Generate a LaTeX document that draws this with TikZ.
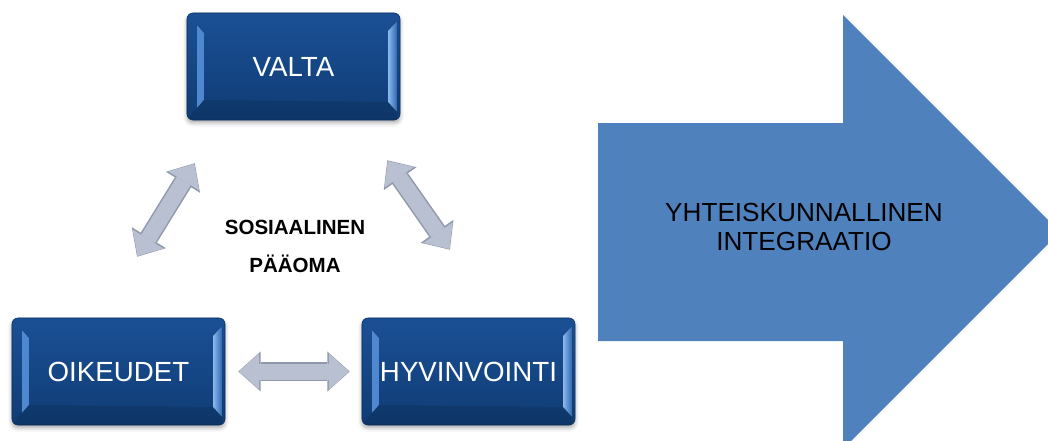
\documentclass[tikz,border=0pt]{standalone}
\usepackage{fontspec}
\setmainfont{Liberation Sans}
\usetikzlibrary{arrows.meta,calc,shadows.blur}
\definecolor{boxtop}{HTML}{1B5096}
\definecolor{boxbot}{HTML}{0F3C74}
\definecolor{boxedge}{HTML}{0B2F5E}
\definecolor{bevlight}{HTML}{8AB9EE}
\definecolor{bevmid}{HTML}{4F8AD3}
\definecolor{bevdark}{HTML}{2F66AE}
\definecolor{linkfill}{HTML}{B9C0D1}
\definecolor{linkedge}{HTML}{9098AB}
\definecolor{bigblue}{HTML}{4F81BD}

\begin{document}
\begin{tikzpicture}[x=0.025cm,y=-0.025cm,
  box/.style={rounded corners=0.15cm, minimum width=5.325cm, minimum height=2.675cm,
    inner sep=0pt, text=white, font=\fontsize{19.7}{22}\selectfont,
    top color=boxtop, bottom color=boxbot, draw=boxedge, line width=0.4pt,
    blur shadow={shadow xshift=0pt, shadow yshift=-0.07cm, shadow blur radius=0.1cm, shadow opacity=35},
    path picture={
      \fill[sharp corners, left color=bevmid, right color=bevdark]
        ($(path picture bounding box.north west)+(10,12)$) -- ++(7,8) -- ++(0,67) -- ++(-7,8) -- cycle;
      \fill[sharp corners, left color=bevlight, right color=bevdark]
        ($(path picture bounding box.north east)+(-12,18)$) -- ++(9,-10) -- ++(0,91) -- ++(-9,-10) -- cycle;
      \fill[sharp corners, black, opacity=.1]
        ($(path picture bounding box.south west)+(17,-20)$) -- ($(path picture bounding box.south east)+(-12,-18)$)
        -- ($(path picture bounding box.south east)+(-3,-8)$) -- ($(path picture bounding box.south east)+(-3,0)$)
        -- ($(path picture bounding box.south west)+(0,0)$) -- ($(path picture bounding box.south west)+(10,-12)$) -- cycle;
    }},
  linkout/.style={line width=0.475cm, draw=linkedge,
    {Triangle[length=0.56cm,width=1.0cm,line width=0pt]}-{Triangle[length=0.56cm,width=1.0cm,line width=0pt]}},
  linkin/.style={line width=0.4cm, draw=linkfill,
    {Triangle[length=0.5cm,width=0.9cm,line width=0pt]}-{Triangle[length=0.5cm,width=0.9cm,line width=0pt]}}]

\clip (0,0) rectangle (1048,441);

% big arrow
\fill[bigblue] (598,123) -- (843,123) -- (843,15) -- (1060,232) -- (843,449) -- (843,341) -- (598,341) -- cycle;
\node[align=center, font=\fontsize{18.6}{20.6}\selectfont] (integraatio) at (804,227) {YHTEISKUNNALLINEN\\INTEGRAATIO};

\node[box] (valta) at (293.5,66.5) {VALTA};
\node[box] (oikeudet) at (118.5,371.5) {OIKEUDET};
\node[box] (hyvinvointi) at (468.5,371.5) {HYVINVOINTI};
\node[align=center, font=\bfseries\fontsize{14.6}{27}\selectfont] (paaoma) at (295,246) {SOSIAALINEN\\PÄÄOMA};

\path[linkout,shorten <=1.79cm,shorten >=1.26cm] ($(oikeudet.north)+(-19,0)$) -- ($(valta.south west)+(34.5,0)$);
\path[linkin,shorten <=1.81cm,shorten >=1.28cm] ($(oikeudet.north)+(-19,0)$) -- ($(valta.south west)+(34.5,0)$);
\path[linkout,shorten <=1.22cm,shorten >=2.075cm] ($(valta.south east)+(-41,0)$) -- ($(hyvinvointi.north)+(29,0)$);
\path[linkin,shorten <=1.24cm,shorten >=2.095cm] ($(valta.south east)+(-41,0)$) -- ($(hyvinvointi.north)+(29,0)$);
\path[linkout,shorten <=0.325cm,shorten >=0.3cm] (oikeudet.east) -- (hyvinvointi.west);
\path[linkin,shorten <=0.345cm,shorten >=0.32cm] (oikeudet.east) -- (hyvinvointi.west);
\end{tikzpicture}
\end{document}
